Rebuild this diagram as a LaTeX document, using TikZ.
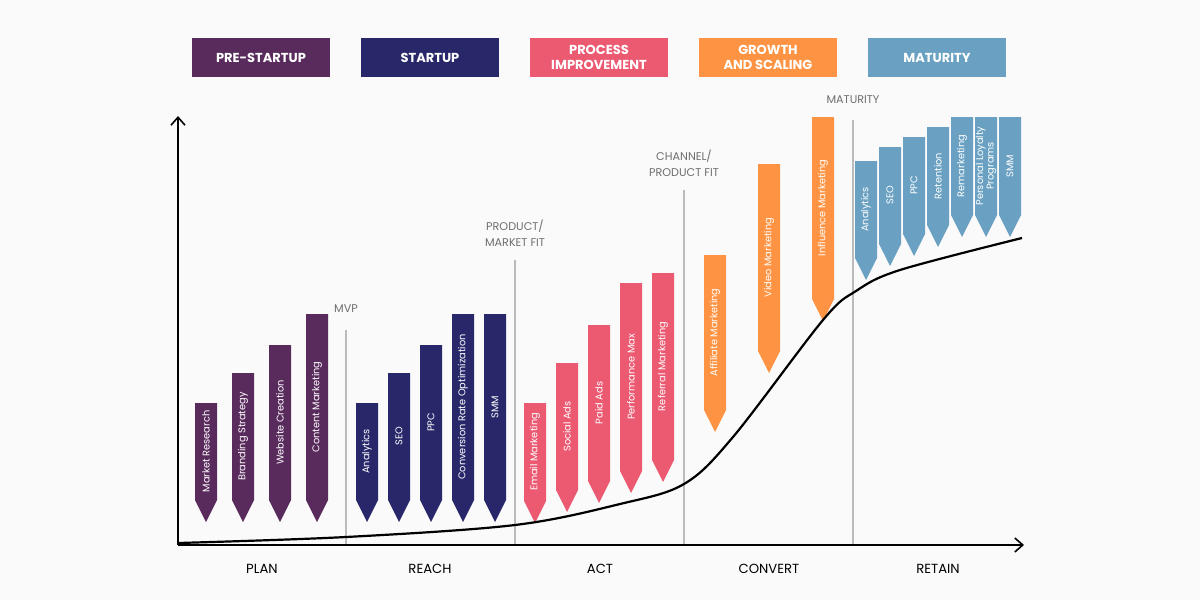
\documentclass[tikz,border=0pt]{standalone}
\usepackage{fontspec}
\setmainfont{Poppins}
\usetikzlibrary{positioning,arrows.meta}
\definecolor{prestart}{HTML}{592B5D}
\definecolor{startup}{HTML}{28276A}
\definecolor{process}{HTML}{EC5A72}
\definecolor{growth}{HTML}{FE9443}
\definecolor{mature}{HTML}{6AA1C2}
\definecolor{bgcol}{HTML}{FAFAFA}
\definecolor{sepgray}{HTML}{BBBBBB}
\definecolor{labgray}{HTML}{6E6E6E}
\tikzset{
  phase/.style={minimum width=69pt,minimum height=19.5pt,inner sep=0pt,align=center,
    text=white,font=\fontsize{6.5}{7.6}\selectfont\bfseries},
  bartext/.style={rotate=90,text=white,align=center,inner sep=0pt,
    font=\fontsize{4.9}{5.2}\selectfont},
  milestone/.style={text=labgray,align=center,inner sep=0pt,font=\fontsize{5.6}{8}\selectfont},
  stage/.style={inner sep=0pt,font=\fontsize{6.6}{8}\selectfont},
  sepline/.style={sepgray,line width=0.8pt},
  axis/.style={line width=1pt,-{Straight Barb[length=4pt,width=7pt,line width=0.8pt]}}
}
\begin{document}
\begin{tikzpicture}[x=0.5pt,y=-0.5pt]
  \fill[bgcol] (0,0) rectangle (1200,600);
  % phase boxes
  \foreach \c/\col/\lbl [count=\n] in {261/prestart/PRE-STARTUP,430/startup/STARTUP,
      599/process/{PROCESS\\IMPROVEMENT},768/growth/{GROWTH\\AND SCALING},937/mature/MATURITY}{
    \node[phase,fill=\col] (ph\n) at (\c,57.5) {\lbl};
  }
  % separators and milestones
  \foreach \x/\t/\lbl/\ly [count=\n] in {346/330/MVP/309,515/260/{PRODUCT/\\MARKET FIT}/233,
      684/190/{CHANNEL/\\PRODUCT FIT}/163,853/120/MATURITY/100}{
    \coordinate (st\n) at (\x,\t);
    \coordinate (sb\n) at (\x,545);
    \draw[sepline] (st\n) -- (sb\n);
    \node[milestone] (ms\n) at (\x,\ly) {\lbl};
  }
  % bars: left/top/tip/text
  \foreach \x/\t/\b/\lbl [count=\n] in {195/403/522/Market Research,232/373/522/Branding Strategy,
      269/345/522/Website Creation,306/314/522/Content Marketing}{
    \fill[prestart] (\x,\t) -- (\x+22,\t) -- (\x+22,\b-22) -- (\x+11,\b) -- (\x,\b-22) -- cycle;
    \node[bartext] (pre\n) at (\x+11,{(\t+\b-22)/2}) {\lbl};
  }
  \foreach \x/\t/\b/\lbl [count=\n] in {356/403/522/Analytics,388/373/522/SEO,420/345/522/PPC,
      452/314/522/Conversion Rate Optimization,484/314/522/SMM}{
    \fill[startup] (\x,\t) -- (\x+22,\t) -- (\x+22,\b-22) -- (\x+11,\b) -- (\x,\b-22) -- cycle;
    \node[bartext] (sta\n) at (\x+11,{(\t+\b-22)/2}) {\lbl};
  }
  \foreach \x/\t/\b/\lbl [count=\n] in {524/403/523/Email Marketing,556/363/512/Social Ads,
      588/325/503/Paid Ads,620/283/493/Performance Max,652/273/482/Referral Marketing}{
    \fill[process] (\x,\t) -- (\x+22,\t) -- (\x+22,\b-22) -- (\x+11,\b) -- (\x,\b-22) -- cycle;
    \node[bartext] (pro\n) at (\x+11,{(\t+\b-22)/2}) {\lbl};
  }
  \foreach \x/\t/\b/\lbl [count=\n] in {704/255/432/Affiliate Marketing,758/164/373/Video Marketing,
      812/117/321/Influence Marketing}{
    \fill[growth] (\x,\t) -- (\x+22,\t) -- (\x+22,\b-22) -- (\x+11,\b) -- (\x,\b-22) -- cycle;
    \node[bartext] (gro\n) at (\x+11,{(\t+\b-22)/2}) {\lbl};
  }
  \foreach \x/\t/\b/\lbl [count=\n] in {855/161/280/Analytics,879/147/266/SEO,903/137/256/PPC,
      927/127/247/Retention,951/117/237/Remarketing,975/117/237/{Personal Loyalty\\Programs},
      999/117/237/SMM}{
    \fill[mature] (\x,\t) -- (\x+22,\t) -- (\x+22,\b-22) -- (\x+11,\b) -- (\x,\b-22) -- cycle;
    \node[bartext] (mat\n) at (\x+11,{(\t+\b-22)/2}) {\lbl};
  }
  % growth curve
  \draw[line width=1.1pt] plot[smooth,tension=0.55] coordinates {(178,543) (346,537) (515,525)
    (620,504) (684,484) (733,437) (823,320) (856,291) (900,270) (1022,238)};
  % axes
  \coordinate (O) at (178,545);
  \coordinate (ytop) at (178,116);
  \coordinate (xend) at (1024,545);
  \draw[axis] (O) -- (ytop);
  \draw[axis] (O) -- (xend);
  % stage labels
  \foreach \x/\lbl [count=\n] in {262/PLAN,430/REACH,600/ACT,769/CONVERT,938/RETAIN}{
    \node[stage] (sg\n) at (\x,569) {\lbl};
  }
\end{tikzpicture}
\end{document}
